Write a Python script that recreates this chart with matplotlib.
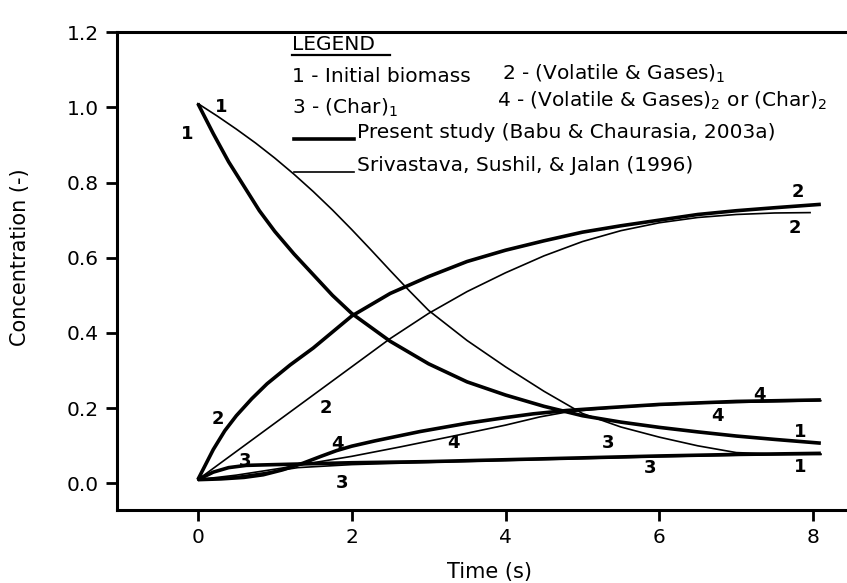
import numpy as np
import matplotlib.pyplot as plt
from matplotlib.lines import Line2D

plt.rcParams['font.family'] = ['DejaVu Sans']
plt.rcParams['mathtext.fontset'] = 'dejavusans'

# Present study (thick lines)
t1 = [0, 0.2, 0.4, 0.6, 0.8, 1.0, 1.25, 1.5, 1.75, 2.0, 2.5, 3.0, 3.5, 4.0, 4.5, 5.0, 5.5, 6.0, 6.5, 7.0, 7.5, 8.1]
c1 = [1.01, 0.93, 0.855, 0.79, 0.725, 0.67, 0.61, 0.555, 0.5, 0.452, 0.378, 0.318, 0.27, 0.235, 0.205,
      0.18, 0.163, 0.149, 0.137, 0.126, 0.117, 0.107]

t2 = [0, 0.1, 0.2, 0.35, 0.5, 0.7, 0.9, 1.2, 1.5, 2.0, 2.5, 3.0, 3.5, 4.0, 4.5, 5.0, 5.5, 6.0, 6.5, 7.0, 7.5, 8.1]
c2 = [0.01, 0.05, 0.09, 0.14, 0.18, 0.225, 0.265, 0.315, 0.36, 0.445, 0.505, 0.55, 0.59, 0.62, 0.645,
      0.668, 0.685, 0.70, 0.715, 0.725, 0.733, 0.742]

t3 = [0, 0.2, 0.4, 0.63, 1.0, 2.0, 3.0, 4.0, 5.0, 6.0, 7.0, 8.1]
c3 = [0.01, 0.03, 0.042, 0.048, 0.05, 0.055, 0.058, 0.063, 0.068, 0.073, 0.077, 0.08]

t4 = [0, 0.3, 0.6, 0.85, 1.1, 1.37, 1.6, 1.8, 2.0, 2.3, 2.89, 3.5, 4.0, 4.36, 4.8, 5.23, 6.0, 7.0, 8.1]
c4 = [0.01, 0.012, 0.016, 0.023, 0.036, 0.054, 0.072, 0.087, 0.099, 0.113, 0.138, 0.16, 0.175, 0.185,
      0.194, 0.2, 0.21, 0.218, 0.222]

# Srivastava, Sushil & Jalan (thin lines)
s1_t = [0, 0.25, 0.5, 0.75, 1.0, 1.25, 1.5, 1.75, 2.0, 2.25, 2.5, 2.75, 3.0, 3.5, 4.0, 4.5, 5.0, 5.5,
        6.0, 6.5, 7.0, 7.5, 8.1]
s1_c = [1.01, 0.977, 0.942, 0.905, 0.865, 0.822, 0.776, 0.727, 0.675, 0.621, 0.566, 0.512, 0.46, 0.38,
        0.31, 0.245, 0.186, 0.15, 0.123, 0.1, 0.082, 0.078, 0.077]

s2_t = [0, 0.5, 1.0, 1.5, 2.0, 2.5, 3.0, 3.5, 4.0, 4.5, 5.0, 5.5, 6.0, 6.5, 7.0, 7.5, 7.96]
s2_c = [0.01, 0.085, 0.16, 0.235, 0.31, 0.385, 0.452, 0.51, 0.56, 0.605, 0.643, 0.672, 0.693, 0.707,
        0.715, 0.719, 0.72]

s3_t = [0, 0.5, 0.85, 1.3, 2.0, 3.0, 4.0, 5.0, 6.0, 7.0, 8.1]
s3_c = [0.01, 0.018, 0.028, 0.042, 0.05, 0.056, 0.061, 0.066, 0.071, 0.075, 0.078]

s4_t = [0, 0.5, 1.07, 1.5, 2.0, 2.63, 3.3, 4.0, 4.45, 4.8, 5.5, 6.5, 8.1]
s4_c = [0.01, 0.022, 0.04, 0.055, 0.072, 0.097, 0.125, 0.155, 0.177, 0.19, 0.203, 0.213, 0.22]

# curve labels: (text, t, c)
curve_labels = [
    ("1", -0.14, 0.93), ("1", 0.3, 1.0),
    ("2", 0.26, 0.17), ("2", 1.66, 0.2),
    ("3", 0.61, 0.06), ("3", 1.87, 0.0),
    ("4", 1.82, 0.105), ("4", 3.32, 0.107),
    ("3", 5.33, 0.107), ("3", 5.88, 0.04),
    ("4", 6.75, 0.18), ("4", 7.3, 0.235),
    ("1", 7.83, 0.136), ("1", 7.83, 0.044),
    ("2", 7.8, 0.775), ("2", 7.76, 0.68),
]

fig = plt.figure(figsize=(8.47, 5.83), dpi=100)
ax = fig.add_axes([0.138, 0.125, 0.862, 0.82])

thick = dict(color='black', lw=2.6, solid_capstyle='butt')
thin = dict(color='black', lw=1.2)
for t, c in [(t1, c1), (t2, c2), (t3, c3), (t4, c4)]:
    ax.plot(t, c, **thick)
for t, c in [(s1_t, s1_c), (s2_t, s2_c), (s3_t, s3_c), (s4_t, s4_c)]:
    ax.plot(t, c, **thin)

for txt, t, c in curve_labels:
    ax.text(t, c, txt, fontsize=13, fontweight='bold', ha='center', va='center')

ax.set_xlim(-1.053, 8.44)
ax.set_ylim(-0.071, 1.2)
ax.set_xticks([0, 2, 4, 6, 8])
ax.set_yticks([0.0, 0.2, 0.4, 0.6, 0.8, 1.0, 1.2])
ax.set_yticklabels(['0.0', '0.2', '0.4', '0.6', '0.8', '1.0', '1.2'])
ax.tick_params(direction='out', length=8, width=2, labelsize=14.5, pad=5)
for side in ['left', 'top', 'bottom']:
    ax.spines[side].set_linewidth(2.2)
ax.spines['right'].set_visible(False)
ax.set_xlabel('Time (s)', fontsize=15)
ax.set_ylabel('Concentration (-)', fontsize=15)
ax.xaxis.set_label_coords(0.51, -0.108)
ax.yaxis.set_label_coords(-0.119, 0.53)

# legend block
tr = ax.transAxes
def ax_xy(px, py):
    return ((px - 117) / 730.0, (510 - py) / 478.0)

x, y = ax_xy(292, 44)
ax.text(x, y, 'LEGEND', transform=tr, fontsize=14.5, va='center')
x0, yl = ax_xy(292, 55)
x1, _ = ax_xy(390, 55)
ax.add_line(Line2D([x0, x1], [yl, yl], transform=tr, color='black', lw=1.6))

entries = [
    (292, 76, '1 - Initial biomass'),
    (502, 74, '2 - (Volatile & Gases)$_1$'),
    (292, 108, '3 - (Char)$_1$'),
    (497, 101, '4 - (Volatile & Gases)$_2$ or (Char)$_2$'),
]
for px, py, txt in entries:
    x, y = ax_xy(px, py)
    ax.text(x, y, txt, transform=tr, fontsize=14.5, va='center')

for py, lw, txt in [(139, 2.6, 'Present study (Babu & Chaurasia, 2003a)'),
                    (172, 1.2, 'Srivastava, Sushil, & Jalan (1996)')]:
    xa, ya = ax_xy(294, py)
    xb, _ = ax_xy(354, py)
    ax.add_line(Line2D([xa, xb], [ya, ya], transform=tr, color='black', lw=lw))
    xt, yt = ax_xy(357, py - 7)
    ax.text(xt, yt, txt, transform=tr, fontsize=14.5, va='center')

plt.savefig('out.png', dpi=100)
